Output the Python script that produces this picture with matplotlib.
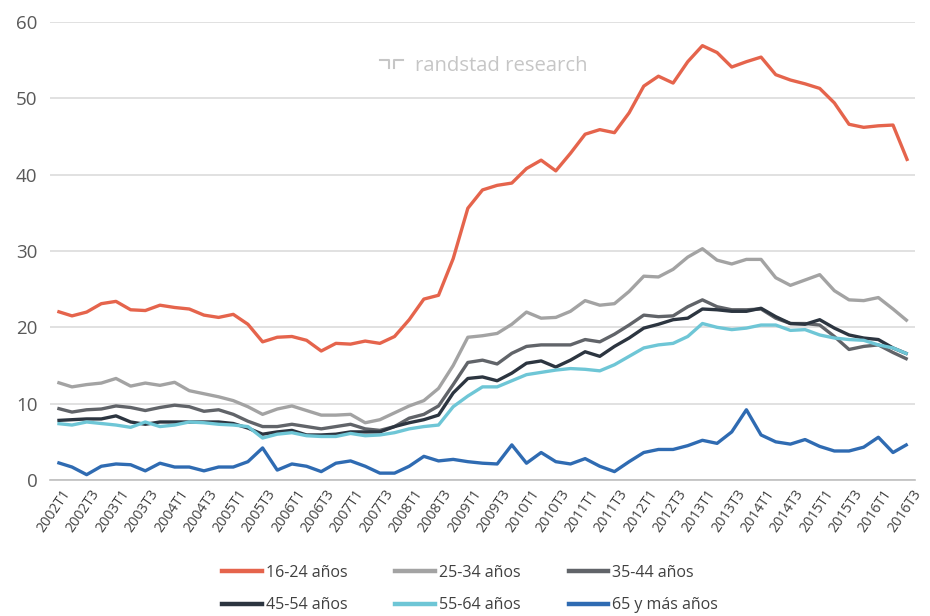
import numpy as np
import matplotlib
matplotlib.use("Agg")
import matplotlib.pyplot as plt
import matplotlib.transforms as mtransforms
from matplotlib.lines import Line2D

plt.rcParams['font.family'] = ['Open Sans', 'DejaVu Sans']

# Trimestres 2002T1 .. 2016T3
trimestres = [f"{a}T{t}" for a in range(2002, 2017) for t in range(1, 5)][:59]

edad_16_24 = [22.1, 21.5, 22.0, 23.1, 23.4, 22.3, 22.2, 22.9, 22.6, 22.4,
              21.6, 21.3, 21.7, 20.4, 18.1, 18.7, 18.8, 18.3, 16.9, 17.9,
              17.8, 18.2, 17.9, 18.8, 21.0, 23.7, 24.2, 29.0, 35.6, 38.0,
              38.6, 38.9, 40.8, 41.9, 40.5, 42.8, 45.3, 45.9, 45.5, 48.1,
              51.6, 52.9, 52.0, 54.8, 56.9, 56.0, 54.1, 54.8, 55.4, 53.1,
              52.4, 51.9, 51.3, 49.4, 46.6, 46.2, 46.4, 46.5, 41.8]

edad_25_34 = [12.8, 12.2, 12.5, 12.7, 13.3, 12.3, 12.7, 12.4, 12.8, 11.7,
              11.3, 10.9, 10.4, 9.6, 8.6, 9.3, 9.7, 9.1, 8.5, 8.5,
              8.6, 7.5, 7.9, 8.8, 9.7, 10.4, 12.0, 15.0, 18.7, 18.9,
              19.2, 20.4, 22.0, 21.2, 21.3, 22.1, 23.5, 22.9, 23.1, 24.7,
              26.7, 26.6, 27.6, 29.2, 30.3, 28.8, 28.3, 28.9, 28.9, 26.5,
              25.5, 26.2, 26.9, 24.8, 23.6, 23.5, 23.9, 22.4, 20.8]

edad_35_44 = [9.4, 8.9, 9.2, 9.3, 9.7, 9.5, 9.1, 9.5, 9.8, 9.6,
              9.0, 9.2, 8.6, 7.7, 7.0, 7.0, 7.3, 7.0, 6.7, 7.0,
              7.3, 6.7, 6.5, 7.0, 8.1, 8.6, 9.7, 12.5, 15.4, 15.7,
              15.2, 16.6, 17.5, 17.7, 17.7, 17.7, 18.4, 18.1, 19.1, 20.3,
              21.6, 21.4, 21.5, 22.7, 23.6, 22.7, 22.3, 22.3, 22.4, 21.2,
              20.5, 20.5, 20.3, 18.8, 17.1, 17.5, 17.7, 16.7, 15.8]

edad_45_54 = [7.8, 7.9, 8.0, 8.0, 8.4, 7.6, 7.3, 7.6, 7.6, 7.6,
              7.6, 7.6, 7.4, 6.8, 6.0, 6.3, 6.5, 5.9, 5.9, 6.0,
              6.3, 6.3, 6.3, 7.0, 7.5, 7.9, 8.5, 11.4, 13.3, 13.5,
              13.0, 14.0, 15.3, 15.6, 14.8, 15.7, 16.8, 16.2, 17.5, 18.6,
              19.9, 20.4, 21.0, 21.2, 22.4, 22.3, 22.1, 22.1, 22.5, 21.4,
              20.5, 20.4, 21.0, 19.9, 19.0, 18.6, 18.4, 17.3, 16.5]

edad_55_64 = [7.4, 7.2, 7.6, 7.4, 7.2, 6.9, 7.6, 7.0, 7.2, 7.6,
              7.5, 7.3, 7.2, 7.0, 5.5, 6.0, 6.2, 5.8, 5.7, 5.7,
              6.1, 5.8, 5.9, 6.2, 6.7, 7.0, 7.2, 9.6, 11.0, 12.2,
              12.2, 13.0, 13.8, 14.1, 14.4, 14.6, 14.5, 14.3, 15.1, 16.2,
              17.3, 17.7, 17.9, 18.8, 20.5, 20.0, 19.7, 19.9, 20.3, 20.3,
              19.6, 19.7, 19.0, 18.6, 18.4, 18.3, 17.7, 17.3, 16.5]

edad_65_mas = [2.3, 1.7, 0.7, 1.8, 2.1, 2.0, 1.2, 2.2, 1.7, 1.7,
               1.2, 1.7, 1.7, 2.4, 4.2, 1.3, 2.1, 1.8, 1.1, 2.2,
               2.5, 1.8, 0.9, 0.9, 1.8, 3.1, 2.5, 2.7, 2.4, 2.2,
               2.1, 4.6, 2.2, 3.6, 2.4, 2.1, 2.8, 1.8, 1.1, 2.4,
               3.6, 4.0, 4.0, 4.5, 5.2, 4.8, 6.3, 9.2, 5.9, 5.0,
               4.7, 5.3, 4.4, 3.8, 3.8, 4.3, 5.6, 3.6, 4.7]

series = [
    ("16-24 años", edad_16_24, "#e5644c"),
    ("25-34 años", edad_25_34, "#a3a3a3"),
    ("35-44 años", edad_35_44, "#616469"),
    ("45-54 años", edad_45_54, "#2c3540"),
    ("55-64 años", edad_55_64, "#6ec6d6"),
    ("65 y más años", edad_65_mas, "#2f6bb2"),
]

fig = plt.figure(figsize=(9.3, 6.16), dpi=100)
ax = fig.add_axes([50 / 930, 136 / 616, 865 / 930, 458 / 616])

x = np.arange(len(trimestres))
lineas = {}
for nombre, valores, color in series:
    l, = ax.plot(x, valores, color=color, lw=2.4, solid_joinstyle='round',
                 solid_capstyle='butt', label=nombre)
    lineas[nombre] = l

ax.set_xlim(-0.5, len(trimestres) - 0.5)
ax.set_ylim(0, 60)
ax.set_yticks(range(0, 61, 10))
ax.yaxis.grid(True, color="#d9d9d9", lw=1.1)
ax.set_axisbelow(True)
for s in ["top", "right", "left"]:
    ax.spines[s].set_visible(False)
ax.spines["bottom"].set_color("#bfbfbf")
ax.spines["bottom"].set_linewidth(1.2)
ax.tick_params(axis="both", length=0, colors="#595959")
ax.tick_params(axis="y", labelsize=13.5, pad=9)

ax.set_xticks(x[::2])
ax.set_xticklabels(trimestres[::2], rotation=56, ha="right", va="top",
                   rotation_mode="anchor", fontsize=10.2, color="#404040")
ax.tick_params(axis="x", pad=5)
desplaza = mtransforms.ScaledTranslation(4 / 100, 0, fig.dpi_scale_trans)
for etiqueta in ax.get_xticklabels():
    etiqueta.set_transform(etiqueta.get_transform() + desplaza)

# marca de agua
fig.text(415 / 930, 1 - 66 / 616, "randstad research", fontsize=14.6,
         color="#c6c6c6", ha="left", va="center")
logo = [([380, 389, 389], [60, 60, 68]), ([394, 394, 403], [68, 60, 60])]
for lx, ly in logo:
    fig.add_artist(Line2D([v / 930 for v in lx], [1 - v / 616 for v in ly],
                          color="#c6c6c6", lw=1.5))

orden = ["16-24 años", "45-54 años", "25-34 años", "55-64 años",
         "35-44 años", "65 y más años"]
handles = [Line2D([], [], color=lineas[n].get_color(), lw=3.2) for n in orden]
fig.legend(handles, orden, loc="center", bbox_to_anchor=(470 / 930, 1 - 589 / 616),
           ncol=3, frameon=False, fontsize=11.5, handlelength=2.5,
           handletextpad=0.25, columnspacing=3.0, labelspacing=1.05,
           labelcolor="#404040")

fig.savefig("out.png", dpi=100)
